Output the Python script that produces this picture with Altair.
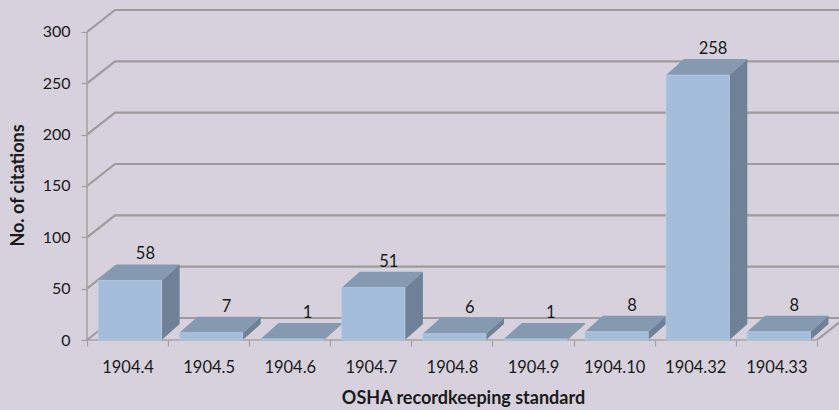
import json
import altair as alt
import pandas as pd

# ---- data ----
categories = ["1904.4", "1904.5", "1904.6", "1904.7", "1904.8", "1904.9", "1904.10", "1904.32", "1904.33"]
citations = [58, 7, 1, 51, 6, 1, 8, 258, 8]
y_ticks = [0, 50, 100, 150, 200, 250, 300]

# ---- geometry (style constants, in scale units) ----
PXX = 81.1            # px per category
PXY = 1.0267          # px per citation
W, H = 752, 340
XMAX = W / PXX
YMAX = H / PXY
A_OFF, B_OFF = 0.14, 0.92          # front face inside band
DXB, DYB = 18 / PXX, 16 / PXY      # bar depth
DXW, DYW = 28 / PXX, 22 / PXY      # wall depth

BG = "#D6D1DD"
FRONT = "#A3BDDA"
TOP = "#8599B1"
SIDE = "#6E8197"
GRID = "#9C9C9C"
FONT = "Lato"
TXT = "#1a1a1a"

front_rows, top_rows, side_rows, lab_rows = [], [], [], []
for i, (c, v) in enumerate(zip(categories, citations)):
    a, b = i + A_OFF, i + B_OFF
    front_rows.append(dict(cat=c, x=a, x2=b, y=0, y2=v))
    for x, lo, hi in [(a, v, v), (a + DXB, v, v + DYB), (b, v, v + DYB), (b + DXB, v + DYB, v + DYB)]:
        top_rows.append(dict(cat=c, x=x, lo=lo, hi=hi))
    for x, lo, hi in [(b, 0, v), (b + DXB, DYB, v + DYB)]:
        side_rows.append(dict(cat=c, x=x, lo=lo, hi=hi))
    lab_rows.append(dict(cat=c, x=(a + b) / 2 + 0.19, y=v + DYB, label=str(v)))

grid_rows = []
for g in y_ticks:
    for k, (x, y) in enumerate([(0, g), (DXW, g + DYW), (XMAX, g + DYW)]):
        grid_rows.append(dict(g=g, k=k, x=x, y=y))
n = len(categories)
floor_right = pd.DataFrame([dict(k=0, x=n, y=0), dict(k=1, x=n + DXW, y=DYW)])

xs = alt.Scale(domain=[0, XMAX], nice=False, zero=False)
ys = alt.Scale(domain=[0, YMAX], nice=False, zero=False)

label_expr = "datum.value < %d ? %s[datum.value] : ''" % (n, json.dumps(categories))

grid = alt.Chart(pd.DataFrame(grid_rows)).mark_line(color=GRID, strokeWidth=2.2).encode(
    x=alt.X("x:Q", scale=xs, axis=alt.Axis(
        values=list(range(n + 1)), labelExpr=label_expr, labelOffset=PXX / 2,
        labelFlush=False, labelOverlap=False,
        domain=False, tickColor="#A0A0A0", tickSize=6, tickWidth=1.2,
        labelFont=FONT, labelFontSize=16.5, labelColor=TXT, labelPadding=13,
        grid=False, title="OSHA recordkeeping standard", titleFont=FONT,
        titleFontSize=18, titleFontWeight="bold", titleColor=TXT, titlePadding=14)),
    y=alt.Y("y:Q", scale=ys, axis=alt.Axis(
        values=y_ticks, domain=False, tickColor="#A0A0A0", tickSize=6, tickWidth=1.2,
        labelFont=FONT, labelFontSize=16, labelColor=TXT, labelPadding=11,
        labelFlush=False, labelOverlap=False,
        grid=False, title="No. of citations", titleFont=FONT, titleFontSize=18,
        titleFontWeight="bold", titleColor=TXT, titleX=-69, titleY=185,
        titleAngle=-90, titleAlign="center", titleBaseline="middle")),
    detail="g:N", order="k:Q")

floor_r = alt.Chart(floor_right).mark_line(color=GRID, strokeWidth=2.2, clip=True).encode(
    x=alt.X("x:Q", scale=xs), y=alt.Y("y:Q", scale=ys), order="k:Q")

axis_df = pd.DataFrame([dict(x=0, x2=0, y=0, y2=max(y_ticks)), dict(x=0, x2=n, y=0, y2=0)])
axes = alt.Chart(axis_df).mark_rule(color="#A3A3A3", strokeWidth=1.6).encode(
    x=alt.X("x:Q", scale=xs), x2="x2:Q", y=alt.Y("y:Q", scale=ys), y2="y2:Q")

side = alt.Chart(pd.DataFrame(side_rows)).mark_area(fill=SIDE, fillOpacity=1, interpolate="linear").encode(
    x=alt.X("x:Q", scale=xs), y=alt.Y("lo:Q", scale=ys, stack=None), y2=alt.Y2("hi:Q"),
    detail="cat:N")
top = alt.Chart(pd.DataFrame(top_rows)).mark_area(fill=TOP, fillOpacity=1, interpolate="linear").encode(
    x=alt.X("x:Q", scale=xs), y=alt.Y("lo:Q", scale=ys, stack=None), y2=alt.Y2("hi:Q"),
    detail="cat:N")
front = alt.Chart(pd.DataFrame(front_rows)).mark_rect(color=FRONT, stroke="#B8CCE2", strokeWidth=0.8).encode(
    x=alt.X("x:Q", scale=xs), x2="x2:Q", y=alt.Y("y:Q", scale=ys), y2="y2:Q")

labels = alt.Chart(pd.DataFrame(lab_rows)).mark_text(
    font=FONT, fontSize=16.5, color=TXT, baseline="bottom", dy=-2).encode(
    x=alt.X("x:Q", scale=xs), y=alt.Y("y:Q", scale=ys), text="label:N")

chart = alt.layer(grid, floor_r, axes, side, top, front, labels).properties(
    width=W, height=H, background=BG,
    padding={"left": 87, "top": 0, "right": 0, "bottom": 70},
    autosize=alt.AutoSizeParams(type="none"),
).configure_view(stroke=None, fill=BG)

chart.save("out.html", embed_options={"renderer": "svg", "actions": False})
